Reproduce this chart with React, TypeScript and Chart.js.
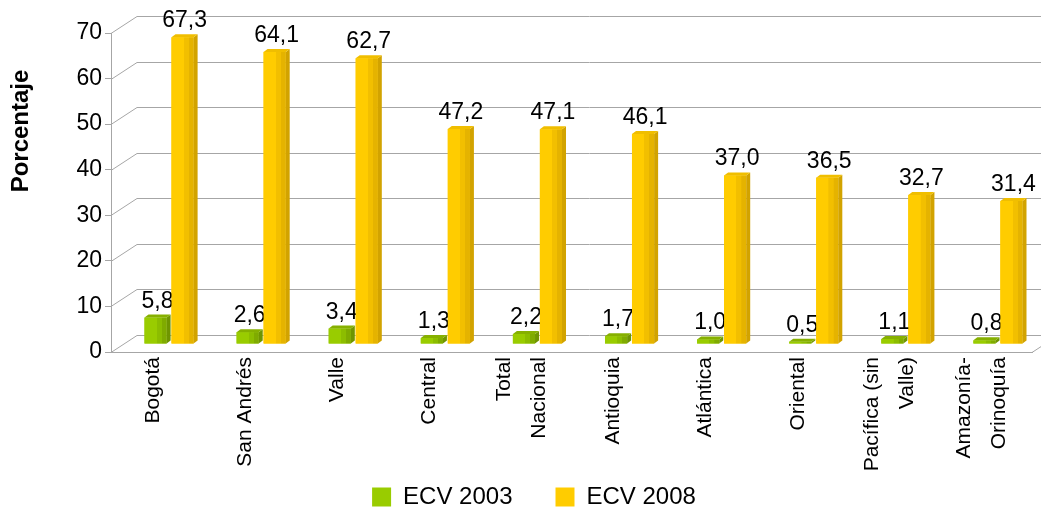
import React, { useEffect, useRef } from "react";
import { Chart, registerables } from "chart.js";

Chart.register(...registerables);

const categories: (string | string[])[] = [
  "Bogotá",
  "San Andrés",
  "Valle",
  "Central",
  ["Total", "Nacional"],
  "Antioquia",
  "Atlántica",
  "Oriental",
  ["Pacífica (sin", "Valle)"],
  ["Amazonía-", "Orinoquía"],
];
const ecv2003 = [5.8, 2.6, 3.4, 1.3, 2.2, 1.7, 1.0, 0.5, 1.1, 0.8];
const ecv2008 = [67.3, 64.1, 62.7, 47.2, 47.1, 46.1, 37.0, 36.5, 32.7, 31.4];
const seriesNames = ["ECV 2003", "ECV 2008"];
const yMin = 0;
const yMax = 70;
const yStep = 10;
const yTitle = "Porcentaje";

const FONT = "'Liberation Sans', Arial, sans-serif";
const GRID = "#A6A6A6";
const DEPTH_X = 26;
const DEPTH_Y = 17;
const SHIFT_X = 12;
const SHIFT_Y = -8;

const palette = [
  { front: "#99CC00", mid: "#8CBD00", dark: "#7FAB00", cap: "#86B000", side: "#6F9500" },
  { front: "#FFCC00", mid: "#F2BF00", dark: "#E5B300", cap: "#F0BE00", side: "#D2A300" },
];

const fmt = (v: number) => v.toFixed(1).replace(".", ",");

const threeD = {
  id: "threeD",
  beforeDatasetsDraw(chart: any) {
    const { ctx, chartArea, scales } = chart;
    const { left, right } = chartArea;
    const y = scales.y;
    ctx.save();
    ctx.strokeStyle = GRID;
    ctx.lineWidth = 1;
    y.ticks.forEach((t: any) => {
      const py = Math.round(y.getPixelForValue(t.value)) + 0.5;
      ctx.beginPath();
      ctx.moveTo(left, py);
      ctx.lineTo(left + DEPTH_X, py - DEPTH_Y);
      ctx.lineTo(right + DEPTH_X, py - DEPTH_Y);
      ctx.stroke();
    });
    const p0 = Math.round(y.getPixelForValue(0)) + 0.5;
    ctx.beginPath();
    ctx.moveTo(right, p0);
    ctx.lineTo(right + DEPTH_X, p0 - DEPTH_Y);
    ctx.stroke();
    ctx.restore();
    ctx.save();
    ctx.translate(SHIFT_X, SHIFT_Y);
  },
  afterDatasetsDraw(chart: any) {
    const ctx = chart.ctx;
    chart.data.datasets.forEach((ds: any, di: number) => {
      const meta = chart.getDatasetMeta(di);
      const pal = palette[di];
      meta.data.forEach((el: any, i: number) => {
        const { x, y, base, width } = el.getProps(["x", "y", "base", "width"], true);
        const l = x - width / 2;
        const r = x + width / 2;
        const g = ctx.createLinearGradient(l, 0, r, 0);
        g.addColorStop(0, pal.front);
        g.addColorStop(0.55, pal.front);
        g.addColorStop(0.56, pal.mid);
        g.addColorStop(0.78, pal.mid);
        g.addColorStop(0.79, pal.dark);
        g.addColorStop(1, pal.dark);
        ctx.fillStyle = g;
        ctx.fillRect(l, y, width, base - y);
        const d = 4;
        const dy = 3;
        ctx.fillStyle = pal.side;
        ctx.beginPath();
        ctx.moveTo(r, y);
        ctx.lineTo(r + d, y - dy);
        ctx.lineTo(r + d, base - dy);
        ctx.lineTo(r, base);
        ctx.closePath();
        ctx.fill();
        ctx.fillStyle = pal.cap;
        ctx.beginPath();
        ctx.moveTo(l, y);
        ctx.lineTo(r, y);
        ctx.lineTo(r + d, y - dy);
        ctx.lineTo(l + d, y - dy);
        ctx.closePath();
        ctx.fill();
        ctx.fillStyle = "#000";
        ctx.font = `23px ${FONT}`;
        ctx.textAlign = "center";
        ctx.textBaseline = "alphabetic";
        ctx.fillText(fmt(ds.data[i]), x + 2, y - 10);
      });
    });
    ctx.restore();
  },
  afterDraw(chart: any) {
    const ctx = chart.ctx;
    // y-axis title
    ctx.save();
    ctx.translate(21, 131);
    ctx.rotate(-Math.PI / 2);
    ctx.font = `bold 24px ${FONT}`;
    ctx.fillStyle = "#000";
    ctx.textAlign = "center";
    ctx.textBaseline = "middle";
    ctx.fillText(yTitle, 0, 0);
    ctx.restore();
    // category labels, vertical, lines centred on the tick
    const xs = chart.scales.x;
    const top = xs.top + 5;
    const lh = 35;
    ctx.save();
    ctx.font = `21px ${FONT}`;
    ctx.fillStyle = "#000";
    ctx.textAlign = "right";
    ctx.textBaseline = "middle";
    (chart.data.labels as any[]).forEach((lab: any, i: number) => {
      const lines: string[] = Array.isArray(lab) ? lab : [lab];
      const px = xs.getPixelForTick(i) - 4;
      lines.forEach((ln, j) => {
        const off = (j - (lines.length - 1) / 2) * lh;
        ctx.save();
        ctx.translate(px + off, top);
        ctx.rotate(-Math.PI / 2);
        ctx.fillText(ln, 0, 0);
        ctx.restore();
      });
    });
    ctx.restore();
  },
};

export default function App() {
  const ref = useRef<HTMLCanvasElement>(null);
  useEffect(() => {
    Chart.defaults.font.family = FONT;
    const chart = new Chart(ref.current!, {
      type: "bar",
      data: {
        labels: categories,
        datasets: [
          {
            label: seriesNames[0],
            data: ecv2003,
            backgroundColor: palette[0].front,
            categoryPercentage: 0.586,
            barPercentage: 0.82,
          },
          {
            label: seriesNames[1],
            data: ecv2008,
            backgroundColor: palette[1].front,
            categoryPercentage: 0.586,
            barPercentage: 0.82,
          },
        ],
      },
      options: {
        animation: false,
        responsive: true,
        maintainAspectRatio: false,
        layout: { padding: { top: 33, right: 9, left: 36, bottom: 0 } },
        plugins: {
          legend: {
            position: "bottom",
            labels: {
              boxWidth: 19,
              boxHeight: 19,
              padding: 43,
              color: "#000",
              font: { size: 24 },
            },
          },
          tooltip: { enabled: false },
        },
        scales: {
          x: {
            grid: { display: false, drawTicks: false },
            border: { display: true, color: GRID },
            ticks: { display: false, autoSkip: false },
            afterFit: (s: any) => {
              s.height = 90;
            },
          },
          y: {
            min: yMin,
            max: yMax,
            ticks: { stepSize: yStep, color: "#000", font: { size: 23 }, padding: 3 },
            grid: { drawOnChartArea: false, drawTicks: true, tickLength: 6, color: GRID },
            border: { display: true, color: GRID },
            afterFit: (s: any) => {
              s.width = 75;
            },
          },
        },
      },
      plugins: [threeD],
    } as any);
    return () => chart.destroy();
  }, []);
  return (
    <div style={{ position: "fixed", left: 0, top: 0, width: 1041, height: 519, background: "#fff" }}>
      <canvas ref={ref} />
    </div>
  );
}
